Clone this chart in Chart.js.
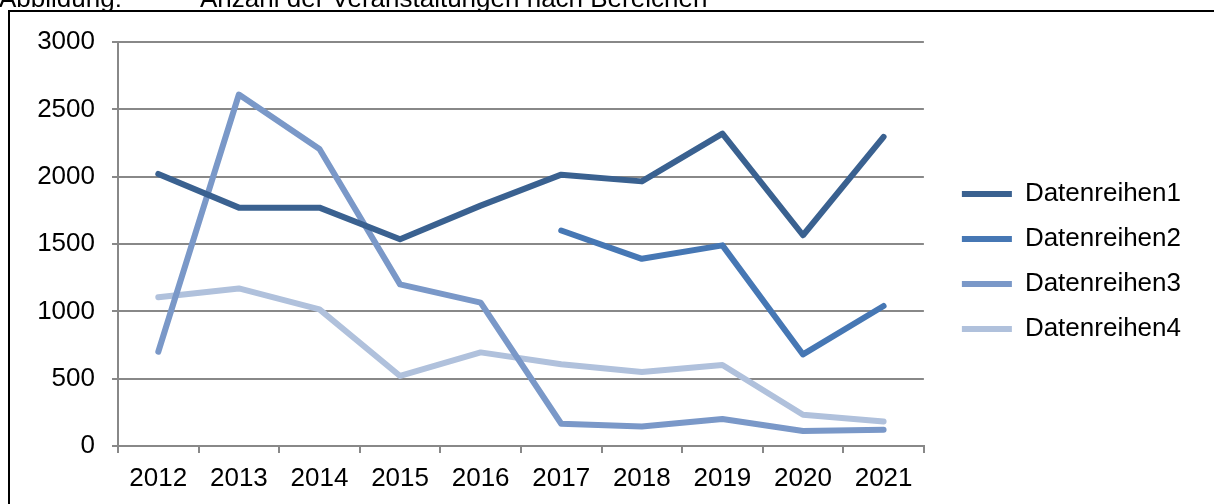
<!DOCTYPE html>
<html>
<head>
<meta charset="utf-8">
<script src="https://cdn.jsdelivr.net/npm/chart.js@4"></script>
<style>
  html, body { margin: 0; padding: 0; background: #fff; }
  #wrap { width: 1214px; height: 504px; }
</style>
</head>
<body>
<div id="wrap"><canvas id="lineChart" width="1214" height="504"></canvas></div>
<script>
const jahre = ['2012', '2013', '2014', '2015', '2016', '2017', '2018', '2019', '2020', '2021'];
const reihe1 = [2020, 1770, 1770, 1535, 1785, 2015, 1965, 2320, 1565, 2295];
const reihe2 = [null, null, null, null, null, 1600, 1390, 1490, 680, 1040];
const reihe3 = [700, 2610, 2205, 1200, 1065, 165, 145, 200, 112, 120];
const reihe4 = [1105, 1170, 1015, 520, 695, 607, 550, 602, 232, 182];
const reihenNamen = ['Datenreihen1', 'Datenreihen2', 'Datenreihen3', 'Datenreihen4'];
const farben = ['#3A6190', '#4677B4', '#7A98C8', '#B0C1DC'];

document.addEventListener('DOMContentLoaded', function () {
    const ctx = document.getElementById('lineChart').getContext('2d');
    const gridColor = '#888888';
    const fontName = "'Liberation Sans', Arial, sans-serif";

    // Rahmen, Überschrift und Legendenversatz
    const rahmenPlugin = {
        id: 'rahmen',
        afterLayout(chart) {
            chart.legend.left += 19;
            chart.legend.right += 19;
            chart.legend.top -= 9;
            chart.legend.bottom -= 9;
        },
        afterDraw(chart) {
            const c = chart.ctx;
            c.save();
            c.strokeStyle = '#000';
            c.lineWidth = 2;
            c.beginPath();
            c.moveTo(9, 504);
            c.lineTo(9, 11);
            c.lineTo(1214, 11);
            c.stroke();
            c.fillStyle = '#000';
            c.font = '26px ' + fontName;
            c.textBaseline = 'alphabetic';
            c.fillText('Abbildung:', -1, 7);
            c.fillText('Anzahl der Veranstaltungen nach Bereichen', 200, 7);
            c.restore();
        }
    };

    const datasets = [reihe1, reihe2, reihe3, reihe4].map(function (werte, i) {
        return {
            label: reihenNamen[i],
            data: werte,
            borderColor: farben[i],
            backgroundColor: farben[i],
            borderWidth: 6,
            borderCapStyle: 'round',
            borderJoinStyle: 'round',
            pointRadius: 0,
            pointHoverRadius: 0,
            pointStyle: 'line',
            tension: 0,
            spanGaps: false,
            fill: false
        };
    });

    new Chart(ctx, {
        type: 'line',
        data: { labels: jahre, datasets: datasets },
        plugins: [rahmenPlugin],
        options: {
            responsive: false,
            animation: false,
            devicePixelRatio: 1,
            layout: { padding: { left: 10, top: 42, right: 42, bottom: 5 } },
            plugins: {
                tooltip: { enabled: false },
                title: { display: false },
                legend: {
                    position: 'right',
                    labels: {
                        usePointStyle: true,
                        pointStyleWidth: 50,
                        padding: 19,
                        color: '#000',
                        font: { family: fontName, size: 26 }
                    }
                }
            },
            scales: {
                x: {
                    offset: true,
                    grid: {
                        offset: true,
                        drawOnChartArea: false,
                        drawTicks: true,
                        tickLength: 7,
                        color: gridColor,
                        lineWidth: 2
                    },
                    border: { display: true, color: gridColor, width: 2 },
                    ticks: {
                        color: '#000',
                        padding: 10,
                        maxRotation: 0,
                        autoSkip: false,
                        font: { family: fontName, size: 26 }
                    },
                    afterFit(scale) { scale.height = 504 - 446 - 5; }
                },
                y: {
                    min: 0,
                    max: 3000,
                    grid: {
                        color: gridColor,
                        lineWidth: 2,
                        tickLength: 6
                    },
                    border: { display: true, color: gridColor, width: 2 },
                    ticks: {
                        stepSize: 500,
                        color: '#000',
                        padding: 17,
                        font: { family: fontName, size: 26 },
                        callback: function (value) { return String(value); }
                    },
                    afterFit(scale) { scale.width = 118 - 10; }
                }
            }
        }
    });
});
</script>
</body>
</html>
